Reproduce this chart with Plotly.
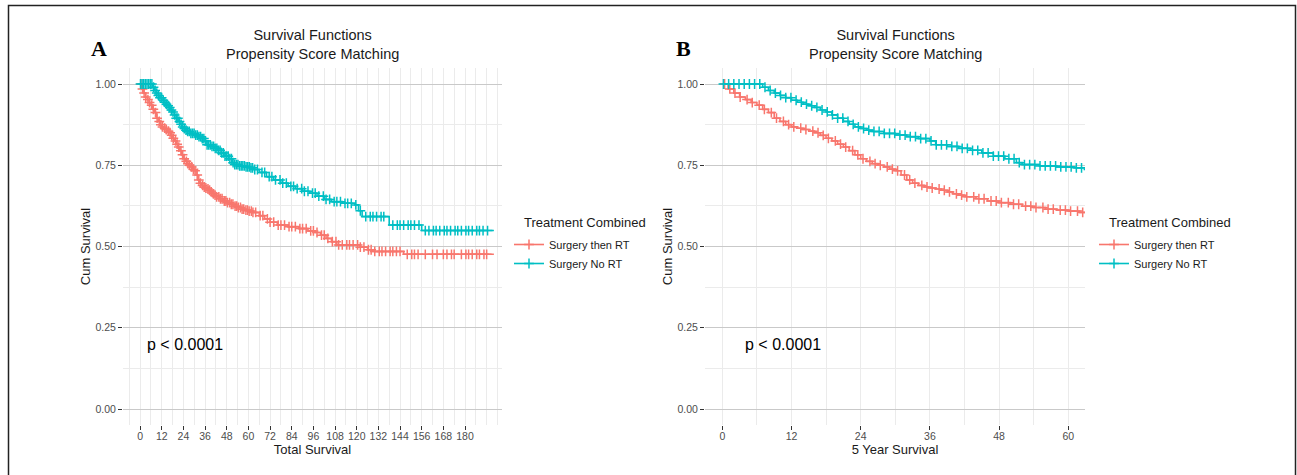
import numpy as np
import plotly.graph_objects as go

# ---------------- data ----------------
groups = ["Surgery then RT", "Surgery No RT"]
colors = ["#F8766D", "#00BFC4"]

rt_time = [0, 1, 2, 3, 4, 5, 6, 7, 8, 9, 10, 11, 12, 13, 14, 15, 16, 17, 18, 19, 20,
           21, 22, 23, 24, 25, 26, 27, 28, 29, 30, 31, 32, 33, 34, 35, 36, 37, 38, 39,
           40, 41, 42, 44, 46, 48, 50, 52, 54, 56, 58, 60, 62, 66, 69, 72, 76, 82, 88,
           93, 97, 100, 103, 106, 109, 122, 126, 129, 146, 196]
rt_surv = [1.0, 0.985, 0.972, 0.96, 0.952, 0.943, 0.935, 0.922, 0.912, 0.895, 0.885,
           0.875, 0.868, 0.864, 0.86, 0.855, 0.85, 0.842, 0.833, 0.825, 0.815, 0.806,
           0.795, 0.782, 0.77, 0.762, 0.755, 0.75, 0.745, 0.738, 0.733, 0.72, 0.705,
           0.695, 0.688, 0.683, 0.68, 0.677, 0.673, 0.668, 0.662, 0.658, 0.653, 0.647,
           0.64, 0.635, 0.63, 0.624, 0.62, 0.615, 0.612, 0.609, 0.605, 0.595, 0.585,
           0.575, 0.566, 0.561, 0.555, 0.548, 0.543, 0.535, 0.525, 0.515, 0.505, 0.498,
           0.49, 0.485, 0.476, 0.476]

nort_time = [0, 6, 7, 8, 9, 10, 11, 12, 13, 14, 15, 16, 17, 18, 19, 20, 21, 22, 23, 24,
             25, 26, 28, 30, 32, 34, 36, 37, 39, 41, 43, 45, 47, 49, 51, 52, 55, 58, 61,
             63, 66, 70, 74, 78, 82, 86, 90, 94, 98, 102, 106, 112, 119, 121, 123, 138,
             156, 196]
nort_surv = [1.0, 1.0, 0.99, 0.98, 0.972, 0.965, 0.958, 0.95, 0.944, 0.938, 0.933, 0.928,
             0.92, 0.914, 0.905, 0.895, 0.885, 0.876, 0.868, 0.863, 0.858, 0.854, 0.848,
             0.843, 0.838, 0.832, 0.825, 0.813, 0.808, 0.802, 0.796, 0.788, 0.778, 0.77,
             0.758, 0.752, 0.748, 0.745, 0.742, 0.737, 0.728, 0.715, 0.705, 0.695, 0.685,
             0.678, 0.67, 0.664, 0.655, 0.645, 0.638, 0.633, 0.628, 0.61, 0.592, 0.566,
             0.549, 0.549]

rt_censor = [0.4, 1.3, 2.2, 3.1, 4.3, 5.2, 6.4, 7.3, 8.5, 9.4, 10.6, 11.5, 12.4, 13.6,
             14.5, 15.7, 16.6, 17.5, 18.4, 19.6, 20.5, 21.4, 22.6, 23.5, 24.4, 25.6,
             26.5, 27.4, 28.6, 29.5, 30.4, 31.6, 32.5, 33.4, 34.6, 35.5, 36.4, 37.6,
             38.5, 39.4, 40.6, 41.5, 42.4, 43.6, 44.5, 45.4, 46.6, 47.5, 48.4, 49.6,
             50.5, 51.4, 52.6, 53.5, 54.4, 55.6, 56.5, 57.4, 58.6, 59.5, 60.4, 61.6,
             62.5, 64, 66.5, 68, 70.5, 72, 74, 76.5, 78, 80, 82.5, 84, 86, 88.5, 90, 92,
             94.5, 96, 98, 100.5, 102, 104, 106.5, 108.5, 110, 112, 114.5, 116, 118,
             120.5, 122, 124, 126.5, 128, 130, 132.5, 134, 136, 138.5, 140, 142, 144,
             148, 150.5, 152, 154, 158, 162, 164.5, 168, 170, 172.5, 174, 178, 180.5,
             182, 184, 186.5, 188, 190.5, 192]
nort_censor = [0.2, 1.1, 2.0, 2.9, 3.8, 4.7, 5.6, 6.5, 7.4, 8.3, 9.2, 10.1, 11.0, 11.9,
               12.8, 13.7, 14.6, 15.5, 16.4, 17.3, 18.2, 19.1, 20.0, 20.9, 21.8, 22.7,
               23.6, 24.5, 25.4, 26.3, 27.2, 28.1, 29.0, 29.9, 30.8, 31.7, 32.6, 33.5,
               34.4, 35.3, 36.2, 37.1, 38.0, 38.9, 39.8, 40.7, 41.6, 42.5, 43.4, 44.3,
               45.2, 46.1, 47.0, 47.9, 48.8, 49.7, 50.6, 51.5, 52.4, 53.3, 54.2, 55.1,
               56.0, 56.9, 57.8, 58.7, 59.6, 60.5, 61.4, 62.3, 63.5, 65, 67.5, 69, 71.5,
               73, 75, 77.5, 79, 81, 83.5, 85, 87, 89.5, 91, 93, 95.5, 97, 99, 101.5, 103,
               105, 107.5, 109, 111, 113.5, 115, 117, 119.5, 122, 125, 127.5, 129, 131,
               133.5, 135, 140, 142.5, 144, 146, 148.5, 150, 152, 154.5, 158, 160, 162.5,
               164, 166, 168.5, 170, 172, 174.5, 176, 178, 180.5, 182, 184, 186.5, 188,
               190, 192.5]

x_ticks_a = [0, 12, 24, 36, 48, 60, 72, 84, 96, 108, 120, 132, 144, 156, 168, 180]
x_ticks_b = [0, 12, 24, 36, 48, 60]
y_ticks = [0.0, 0.25, 0.5, 0.75, 1.0]
y_labels = ["0.00", "0.25", "0.50", "0.75", "1.00"]

times = [rt_time, nort_time]
survs = [rt_surv, nort_surv]
censors = [rt_censor, nort_censor]

# ---------------- figure ----------------
W, H = 1297, 475
FONT = "Arial, Liberation Sans, sans-serif"
fig = go.Figure()


def step_value(t_arr, s_arr, c):
    t_arr = np.asarray(t_arr, float)
    s_arr = np.asarray(s_arr, float)
    idx = np.searchsorted(t_arr, np.asarray(c, float), side="right") - 1
    return s_arr[idx]


for panel, (xa, ya, leg) in enumerate([("x", "y", "legend"), ("x2", "y2", "legend2")]):
    for g in range(2):
        cy = step_value(times[g], survs[g], censors[g])
        # step curve
        fig.add_trace(go.Scatter(
            x=times[g], y=survs[g], mode="lines", line=dict(shape="hv", color=colors[g], width=1.6),
            xaxis=xa, yaxis=ya, showlegend=False, hoverinfo="skip", legend=leg))
        # censor marks
        fig.add_trace(go.Scatter(
            x=censors[g], y=cy, mode="markers",
            marker=dict(symbol="cross-thin", size=7, line=dict(color=colors[g], width=1.5)),
            xaxis=xa, yaxis=ya, showlegend=False, hoverinfo="skip"))
        # legend entry (line with + mark)
        fig.add_trace(go.Scatter(
            x=[None], y=[None], mode="lines+markers",
            line=dict(color=colors[g], width=1.6),
            marker=dict(symbol="cross-thin", size=7, line=dict(color=colors[g], width=1.5)),
            name=groups[g], xaxis=xa, yaxis=ya, legend=leg, showlegend=True))

# layout geometry in pixels
axA = (123, 502)
axB = (705, 1085)
ytop, ybot = 67.75, 425.25

grid_major_y = "#c9c9c9"
grid_light = "#ebebeb"
tickfont = dict(family=FONT, size=10.5, color="#4d4d4d")

common_y = dict(range=[-0.05, 1.05], tickvals=y_ticks, ticktext=y_labels, ticks="outside",
                ticklen=4, tickwidth=1, tickcolor="#333333", showline=False, zeroline=False,
                showgrid=True, gridcolor=grid_major_y, gridwidth=1,
                minor=dict(dtick=0.125, tick0=0, showgrid=True, gridcolor=grid_light, gridwidth=0.8),
                tickfont=tickfont,
                title=dict(text="Cum Survival", font=dict(family=FONT, size=13, color="#1a1a1a"),
                           standoff=1),
                domain=[1 - ybot / H, 1 - ytop / H], fixedrange=True)

common_x = dict(ticks="outside", ticklen=4, tickwidth=1, tickcolor="#333333", showline=False,
                zeroline=False, showgrid=True, gridcolor=grid_light, gridwidth=1,
                minor=dict(dtick=6, tick0=0, showgrid=True, gridcolor=grid_light, gridwidth=0.8),
                tickfont=tickfont, ticklabelstandoff=-3, fixedrange=True)

leg_common = dict(xanchor="left", yanchor="top", font=dict(family=FONT, size=11, color="#1a1a1a"),
                  itemwidth=30, bgcolor="rgba(0,0,0,0)", tracegroupgap=0)

fig.update_layout(
    width=W, height=H, autosize=False,
    margin=dict(l=0, r=0, t=0, b=0),
    paper_bgcolor="white", plot_bgcolor="white",
    font=dict(family=FONT, color="#1a1a1a"),
    xaxis=dict(domain=[axA[0] / W, axA[1] / W], range=[-9.5, 200.5], tickvals=x_ticks_a,
               anchor="y",
               title=dict(text="Total Survival", font=dict(size=13, color="#1a1a1a"), standoff=0),
               **common_x),
    xaxis2=dict(domain=[axB[0] / W, axB[1] / W], range=[-3.0, 62.9], tickvals=x_ticks_b,
                anchor="y2",
                title=dict(text="5 Year Survival", font=dict(size=13, color="#1a1a1a"), standoff=0),
                **common_x),
    yaxis=dict(anchor="x", **common_y),
    yaxis2=dict(anchor="x2", **common_y),
    legend=dict(x=509 / W, y=1 - 230 / H, **leg_common),
    legend2=dict(x=1094 / W, y=1 - 230 / H, **leg_common),
    showlegend=True,
)

# panel titles, letters, legend titles and p-values
for (x0, x1), letter, lx, ltx, xref, yref, px in [(axA, "A", 99, 522, "x", "y", 25),
                                                   (axB, "B", 683, 1107, "x2", "y2", 10.5)]:
    fig.add_annotation(x=(x0 + x1) / 2 / W, y=1 - 45 / H, xref="paper", yref="paper",
                       text="Survival Functions<br>Propensity Score Matching", showarrow=False,
                       font=dict(size=14.5, color="#1a1a1a"), xanchor="center", yanchor="middle")
    fig.add_annotation(x=lx / W, y=1 - 48 / H, xref="paper", yref="paper", text="<b>" + letter + "</b>",
                       showarrow=False, font=dict(family="Liberation Serif, Times New Roman, serif",
                                                  size=22, color="#000000"),
                       xanchor="center", yanchor="middle")
    fig.add_annotation(x=ltx / W, y=1 - 223 / H, xref="paper", yref="paper", text="Treatment Combined",
                       showarrow=False, font=dict(size=13, color="#1a1a1a"),
                       xanchor="left", yanchor="middle")
    fig.add_annotation(x=px, y=0.2, xref=xref, yref=yref, text="p < 0.0001", showarrow=False,
                       font=dict(size=16, color="#000000"), xanchor="center", yanchor="middle")

# outer frame
fig.add_shape(type="rect", xref="paper", yref="paper", x0=8.5 / W, x1=1295.5 / W,
              y0=-0.1, y1=1 - 5.5 / H, line=dict(color="#222222", width=1.5), fillcolor="rgba(0,0,0,0)")

fig.write_html("out.html", config={"displayModeBar": False},
               post_script="document.body.style.margin='0';")
